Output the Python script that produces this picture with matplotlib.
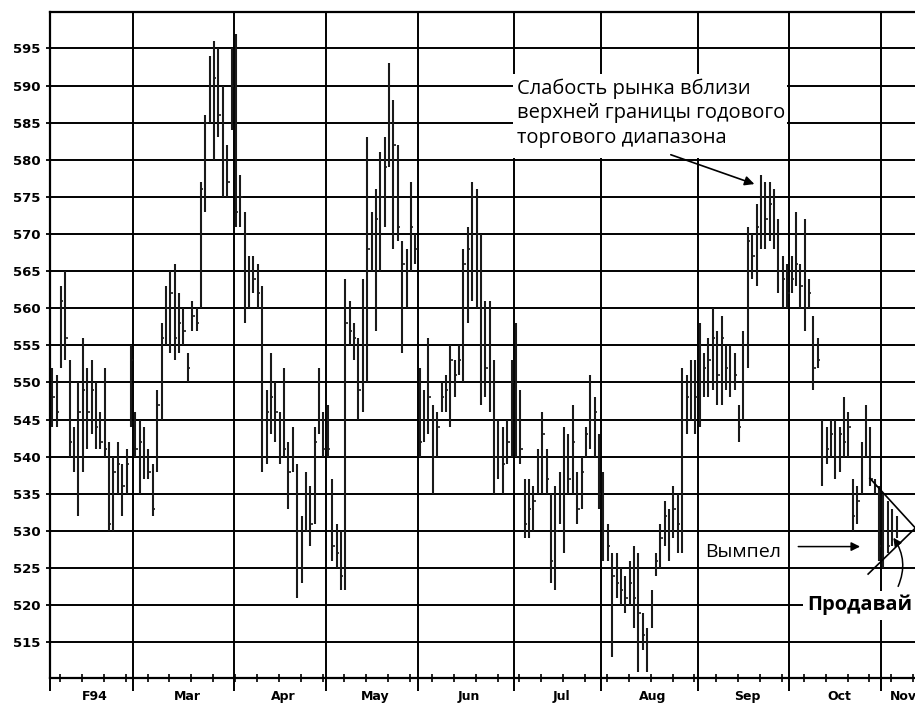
import numpy as np
import matplotlib.pyplot as plt
import matplotlib.transforms as mtransforms
from matplotlib.patches import Rectangle

plt.rcParams['font.family'] = ['DejaVu Sans']

# месяцы и число торговых дней в каждом
month_names = ["F94", "Mar", "Apr", "May", "Jun", "Jul", "Aug", "Sep", "Oct", "Nov"]
month_lengths = [19, 23, 21, 21, 22, 20, 22, 21, 21, 4]

# дневные бары: максимум / минимум / закрытие (по месяцам, строка = месяц)
highs = [
    552, 551, 563, 565, 553, 544, 550, 556, 552, 553, 550, 546, 552, 542, 540, 542, 539, 541, 555,
    546, 545, 544, 541, 539, 549, 558, 563, 565, 566, 562, 560, 554, 561, 560, 577, 586, 594, 596, 595, 590, 582, 595,
    597, 578, 573, 567, 567, 566, 563, 549, 554, 550, 546, 552, 542, 544, 539, 532, 538, 536, 544, 552, 546,
    547, 537, 531, 530, 564, 561, 558, 556, 564, 583, 573, 576, 581, 583, 593, 588, 582, 569, 568, 577, 570,
    552, 549, 556, 547, 546, 550, 551, 555, 553, 555, 568, 571, 577, 576, 570, 561, 561, 553, 545, 544, 545, 553,
    558, 549, 537, 537, 536, 541, 546, 541, 535, 536, 538, 544, 543, 547, 538, 540, 544, 551, 548, 543,
    538, 531, 527, 527, 525, 524, 526, 528, 527, 519, 517, 522, 527, 531, 534, 533, 536, 535, 552, 551, 553, 553,
    558, 554, 556, 560, 557, 559, 555, 555, 554, 547, 557, 571, 570, 574, 578, 577, 577, 576, 572, 567, 566,
    567, 573, 566, 572, 564, 559, 556, 545, 544, 545, 545, 544, 548, 546, 537, 536, 542, 547, 544, 537, 536,
    535, 534, 533, 532,
]
lows = [
    544, 544, 552, 553, 540, 538, 532, 538, 541, 543, 541, 541, 540, 530, 530, 535, 532, 535, 544,
    540, 535, 537, 537, 532, 538, 545, 555, 554, 553, 554, 555, 550, 557, 557, 560, 573, 585, 580, 583, 575, 575, 584,
    571, 571, 558, 560, 562, 560, 538, 539, 543, 542, 539, 540, 533, 538, 521, 523, 530, 528, 531, 543, 540,
    540, 526, 525, 522, 522, 555, 553, 545, 546, 550, 565, 557, 565, 571, 579, 568, 569, 554, 560, 565, 566,
    540, 542, 543, 535, 540, 546, 546, 544, 548, 551, 550, 558, 561, 560, 547, 548, 546, 535, 537, 535, 539, 540,
    540, 539, 529, 529, 530, 535, 535, 535, 523, 522, 531, 527, 535, 535, 531, 533, 540, 541, 540, 533,
    526, 526, 513, 521, 520, 519, 520, 517, 511, 514, 511, 517, 524, 525, 528, 526, 529, 527, 527, 543, 545, 543,
    544, 548, 548, 549, 547, 547, 549, 548, 549, 542, 545, 552, 564, 563, 568, 568, 569, 568, 562, 560, 560,
    562, 563, 560, 557, 560, 549, 552, 536, 539, 540, 537, 538, 540, 540, 530, 531, 535, 540, 536, 535, 526,
    525, 527, 528, 529,
]
closes = [
    548, 546, 561, 556, 542, 540, 546, 549, 546, 549, 544, 542, 541, 531, 538, 539, 536, 539, 553,
    541, 542, 540, 538, 533, 547, 556, 560, 562, 556, 558, 557, 552, 559, 558, 576, 585, 590, 591, 586, 580, 577, 590,
    573, 575, 570, 565, 564, 562, 545, 546, 548, 546, 540, 541, 538, 540, 530, 525, 530, 531, 542, 545, 541,
    541, 528, 527, 524, 558, 557, 556, 549, 555, 568, 570, 572, 575, 579, 585, 582, 571, 566, 565, 571, 568,
    542, 545, 548, 540, 544, 548, 549, 553, 551, 553, 566, 568, 575, 570, 555, 552, 550, 540, 540, 539, 542, 550,
    545, 541, 531, 533, 534, 540, 543, 537, 526, 530, 535, 540, 537, 542, 533, 538, 543, 545, 546, 535,
    530, 528, 524, 523, 522, 521, 523, 521, 519, 516, 515, 520, 526, 529, 532, 530, 533, 531, 545, 548, 550, 548,
    550, 552, 553, 556, 551, 556, 552, 550, 551, 544, 550, 569, 567, 571, 575, 572, 574, 570, 565, 564, 562,
    564, 566, 563, 560, 562, 552, 553, 540, 541, 543, 540, 543, 542, 544, 532, 534, 540, 545, 537, 536, 528,
    530, 528, 530, 530,
]

price_ticks = list(range(515, 600, 5))

fig = plt.figure(figsize=(9.15, 7.06), dpi=100)
# правый край оси уходит за край картинки, как на скане
ax = fig.add_axes([50 / 915, 28 / 706, 884 / 915, 666 / 706])

n = len(highs)
x = np.arange(n) + 0.5
month_starts = np.concatenate([[0], np.cumsum(month_lengths)[:-1]])

ax.set_xlim(0, 884 / 4.375)
ax.set_ylim(510.2, 599.9)

# сетка
ax.set_yticks(price_ticks)
ax.grid(axis='y', color='black', lw=1.4, zorder=0)
for s in month_starts[1:]:
    ax.axvline(s, color='black', lw=1.4, zorder=0)
ax.set_axisbelow(True)

# бары
ax.vlines(x, lows, highs, color='#1a1a1a', lw=1.5, zorder=2)
ax.hlines(closes, x, x + 0.55, color='#1a1a1a', lw=1.2, zorder=2)

# оси и засечки
for sp in ax.spines.values():
    sp.set_linewidth(1.6)
ax.set_xticks(month_starts)
ax.set_xticklabels([])
ax.set_xticks(np.arange(2.3, 202, 5), minor=True)
ax.tick_params(axis='x', which='major', direction='out', length=9, width=1.4)
ax.tick_params(axis='x', which='minor', direction='inout', length=6, width=1.2)
ax.tick_params(axis='y', direction='out', length=3, width=1.3, pad=4)
for lab in ax.get_yticklabels():
    lab.set_fontweight('bold')
    lab.set_fontsize(9.5)

# подписи месяцев (последний месяц обрезан краем, как в оригинале)
trans = mtransforms.blended_transform_factory(ax.transData, ax.transAxes)
for i, name in enumerate(month_names):
    if i < len(month_names) - 1:
        ax.text(month_starts[i] + month_lengths[i] / 2 + 0.8, -0.028, name, transform=trans,
                ha='center', va='center', fontsize=9, fontweight='bold')
    else:
        ax.text(month_starts[i] + 2.0, -0.028, name, transform=trans,
                ha='left', va='center', fontsize=9, fontweight='bold')

# аннотации
txt_font = ['Open Sans', 'DejaVu Sans']
ax.add_patch(Rectangle((105.8, 580.2), 62.7, 11.4, facecolor='white', edgecolor='none', zorder=1))
ax.text(106.7, 591.0, "Слабость рынка вблизи\nверхней границы годового\nторгового диапазона",
        family=txt_font, fontsize=14.5, va='top', ha='left', linespacing=1.3, zorder=3)
ax.annotate("", xy=(161.6, 576.6), xytext=(141.3, 580.8),
            arrowprops=dict(arrowstyle='-|>', color='black', lw=1.2, mutation_scale=14), zorder=3)

ax.text(149.8, 527.2, "Вымпел", family=txt_font, fontsize=14, va='center', ha='left', zorder=3,
        bbox=dict(facecolor='white', edgecolor='none', pad=2))
ax.annotate("", xy=(185.8, 527.9), xytext=(170.4, 527.9),
            arrowprops=dict(arrowstyle='-|>', color='black', lw=1.1, mutation_scale=13), zorder=3)

ax.text(173.0, 520.0, "Продавай", family=txt_font, fontsize=14.5, fontweight='bold',
        va='center', ha='left', zorder=3, bbox=dict(facecolor='white', edgecolor='none', pad=3))

# вымпел
ax.plot([187.4, 197.8], [537.1, 530.4], color='black', lw=1.2, zorder=3, clip_on=False)
ax.plot([187.0, 197.8], [524.2, 530.4], color='black', lw=1.2, zorder=3, clip_on=False)
ax.annotate("", xy=(192.4, 529.4), xytext=(193.6, 522.2),
            arrowprops=dict(arrowstyle='-|>', color='black', lw=1.1, mutation_scale=12,
                            connectionstyle='arc3,rad=0.3'), zorder=3)

fig.savefig('out.png', dpi=100)
